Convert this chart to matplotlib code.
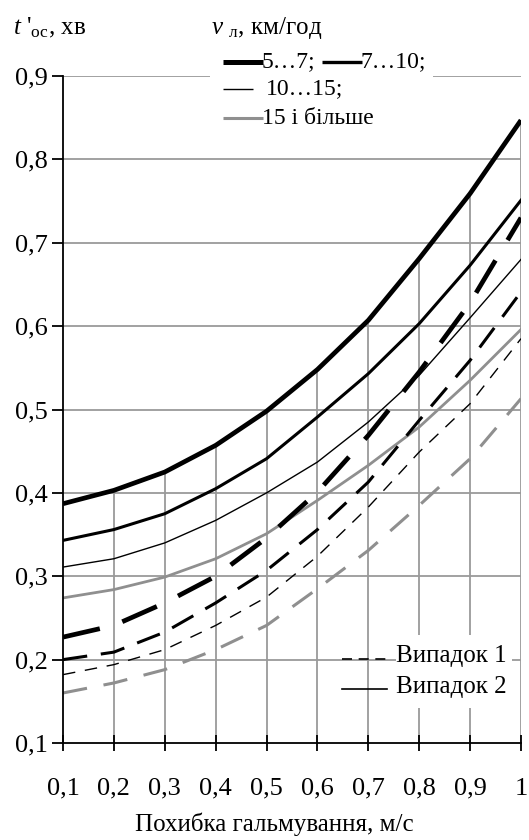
import matplotlib
matplotlib.use("Agg")
import matplotlib.pyplot as plt
from matplotlib.patches import Rectangle

# Data
x = [0.1, 0.2, 0.3, 0.4, 0.5, 0.6, 0.7, 0.8, 0.9, 1.0]
x_ticklabels = ["0,1", "0,2", "0,3", "0,4", "0,5", "0,6", "0,7", "0,8", "0,9", "1"]
y_ticks = [0.1, 0.2, 0.3, 0.4, 0.5, 0.6, 0.7, 0.8, 0.9]
y_ticklabels = ["0,1", "0,2", "0,3", "0,4", "0,5", "0,6", "0,7", "0,8", "0,9"]

# Випадок 2 (solid)
s_5_7 = [0.387, 0.403, 0.425, 0.457, 0.498, 0.548, 0.607, 0.681, 0.759, 0.847]
s_7_10 = [0.343, 0.356, 0.375, 0.405, 0.441, 0.491, 0.543, 0.603, 0.673, 0.751]
s_10_15 = [0.311, 0.321, 0.340, 0.367, 0.400, 0.437, 0.485, 0.541, 0.610, 0.680]
s_15 = [0.274, 0.284, 0.299, 0.321, 0.351, 0.391, 0.433, 0.479, 0.535, 0.596]
# Випадок 1 (dashed)
d_5_7 = [0.227, 0.241, 0.268, 0.300, 0.346, 0.401, 0.469, 0.545, 0.628, 0.730]
d_7_10 = [0.200, 0.209, 0.233, 0.268, 0.307, 0.356, 0.413, 0.487, 0.559, 0.641]
d_10_15 = [0.182, 0.194, 0.212, 0.241, 0.275, 0.324, 0.383, 0.449, 0.507, 0.585]
d_15 = [0.160, 0.172, 0.188, 0.212, 0.241, 0.285, 0.331, 0.385, 0.441, 0.513]

series_labels = ["5…7;", "7…10;", "10…15;", "15 і більше"]
case_labels = ["Випадок 1", "Випадок 2"]

plt.rcParams["font.family"] = ["Liberation Serif", "DejaVu Serif"]
plt.rcParams["mathtext.fontset"] = "custom"
plt.rcParams["mathtext.rm"] = "Liberation Serif"
plt.rcParams["mathtext.it"] = "Liberation Serif:italic"

W, H = 529, 840
L, R, B, T = 63, 521, 743, 76
fig = plt.figure(figsize=(W / 100, H / 100), dpi=100)
ax = fig.add_axes([L / W, 1 - B / H, (R - L) / W, (B - T) / H])
ax.set_xlim(0.1, 1.0)
ax.set_ylim(0.1, 0.9)

grid_c = "#9a9a9a"
grey = "#8f8f8f"

# grid: horizontal lines and drop lines down from the top series
ax.hlines(y_ticks[1:], 0.1, 1.0, color=grid_c, lw=1.3, zorder=1)
ax.vlines(x[1:], 0.1, s_5_7[1:], color=grid_c, lw=1.3, zorder=1)

# solid curves
ax.plot(x, s_5_7, color="black", lw=3.4, zorder=3, solid_capstyle="butt")
ax.plot(x, s_7_10, color="black", lw=2.2, zorder=3)
ax.plot(x, s_10_15, color="black", lw=1.0, zorder=3)
ax.plot(x, s_15, color=grey, lw=2.0, zorder=3)
# dashed curves
ax.plot(x, d_5_7, color="black", lw=3.4, zorder=3, dashes=(8, 5), dash_capstyle="butt")
ax.plot(x, d_7_10, color="black", lw=2.2, zorder=3, dashes=(8, 4.5), dash_capstyle="butt")
ax.plot(x, d_10_15, color="black", lw=1.0, zorder=3, dashes=(9, 7))
ax.plot(x, d_15, color=grey, lw=2.2, zorder=3, dashes=(8, 5.5), dash_capstyle="butt")

for s in ["top", "right"]:
    ax.spines[s].set_visible(False)
for s in ["left", "bottom"]:
    ax.spines[s].set_linewidth(1.3)
    ax.spines[s].set_zorder(4)

ax.set_yticks(y_ticks)
ax.set_yticklabels(y_ticklabels)
ax.set_xticks(x)
ax.set_xticklabels(x_ticklabels)
ax.tick_params(axis="y", direction="out", length=8, width=1.3, pad=3, labelsize=19)
ax.tick_params(axis="x", direction="inout", length=12, width=1.3, pad=19, labelsize=19)


def px(xp, yp):
    # pixel position in figure -> axes fraction
    return (xp - L) / (R - L), (B - yp) / (B - T)


def add_handle(x0, x1, yp, **kw):
    (a0, b), (a1, _) = px(x0, yp), px(x1, yp)
    ax.plot([a0, a1], [b, b], transform=ax.transAxes, clip_on=False, zorder=6, **kw)


def add_text(xp, yp, s, **kw):
    a, b = px(xp, yp)
    ax.text(a, b, s, transform=ax.transAxes, va="center", ha="left", zorder=6, **kw)


# top legend
rx0, ry0 = px(210, 135)
rx1, ry1 = px(433, 45)
ax.add_patch(Rectangle((rx0, ry0), rx1 - rx0, ry1 - ry0, transform=ax.transAxes,
                       facecolor="white", edgecolor="none", zorder=5, clip_on=False))
add_handle(223, 263, 62, color="black", lw=3.6, solid_capstyle="butt")
add_text(262, 62, series_labels[0], fontsize=17)
add_handle(322, 362, 62, color="black", lw=2.4, solid_capstyle="butt")
add_text(361, 62, series_labels[1], fontsize=17)
add_handle(223, 253, 89, color="black", lw=1.0, solid_capstyle="butt")
add_text(266, 89, series_labels[2], fontsize=17)
add_handle(223, 263, 118, color=grey, lw=2.2, solid_capstyle="butt")
add_text(262, 118, series_labels[3], fontsize=17)

# bottom legend
rx0, ry0 = px(396, 708)
rx1, ry1 = px(512, 635)
ax.add_patch(Rectangle((rx0, ry0), rx1 - rx0, ry1 - ry0, transform=ax.transAxes,
                       facecolor="white", edgecolor="none", zorder=5, clip_on=False))
add_handle(342, 387, 659, color="black", lw=1.2, dashes=(6, 4))
add_text(396, 656, case_labels[0], fontsize=18)
add_handle(342, 387, 689, color="black", lw=1.2)
add_text(396, 687, case_labels[1], fontsize=18)

# axis titles
fig.text(13 / W, 1 - 28 / H, r"$t$ '$_{\mathrm{ос}}$, хв", fontsize=18, va="center", ha="left")
fig.text(211 / W, 1 - 28 / H, r"$v$ $_{\mathrm{л}}$, км/год", fontsize=18, va="center", ha="left")
fig.text(274 / W, 1 - 824 / H, "Похибка гальмування, м/с", fontsize=18, va="center", ha="center")

fig.savefig("out.png", dpi=100)
